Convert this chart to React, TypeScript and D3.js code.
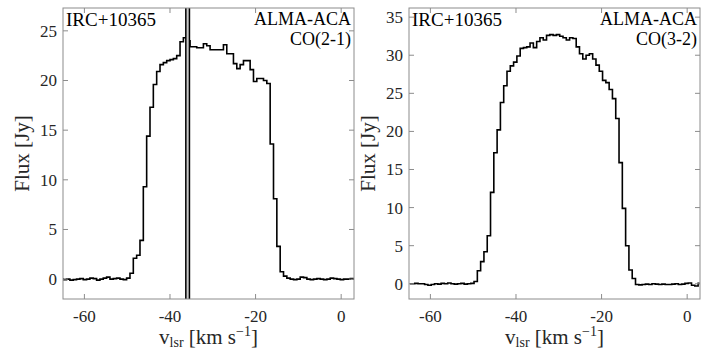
import React from 'react';
import * as d3 from 'd3';

// ---------- data ----------
const X_DOMAIN: [number, number] = [-65, 3];
const X_TICKS = [-60, -40, -20, 0];

const Y_DOMAIN_21: [number, number] = [-2, 27.3];
const Y_TICKS_21 = [0, 5, 10, 15, 20, 25];
const Y_DOMAIN_32: [number, number] = [-2, 36.2];
const Y_TICKS_32 = [0, 5, 10, 15, 20, 25, 30, 35];

// CO(2-1) channels
const DV_21 = 0.78;
const EDGE0_21 = -65.73;
const flux21 = [
  0.0, -0.05, 0.0, -0.1, -0.05, 0.0, 0.05, -0.05, 0.0, 0.1, 0.05, -0.1, 0.0, 0.1, 0.2, 0.0, 0.05, 0.1, 0.0, -0.05, 0.1,
  0.6, 2.1, 2.4, 3.9, 9.3, 14.4, 17.3, 19.6, 20.9, 21.6, 21.8, 22.0, 22.1, 22.2, 22.5, 23.9,
  24.3, 24.0, 23.4, 23.4, 23.3, 23.3, 23.7, 23.5, 23.1, 23.1, 23.1, 23.1, 23.6, 22.7, 22.7, 21.7,
  21.2, 21.6, 22.0, 22.0, 21.1, 19.9, 20.2, 20.2, 20.0, 19.7, 13.6, 8.1, 3.3, 0.75, 0.3, 0.1,
  0.0, -0.05, 0.0, 0.2, 0.15, 0.0, -0.05, 0.0, 0.05, 0.0, -0.05, 0.0, 0.1, 0.05, 0.0, -0.05, 0.0, 0.0, 0.05, 0.0,
];
const vel21 = flux21.map((_, i) => EDGE0_21 + (i + 0.5) * DV_21);
const MARK_21: [number, number] = [-36.3, -35.45];

// CO(3-2) channels
const DV_32 = 0.77;
const EDGE0_32 = -65.2;
const flux32 = [
  0.0, 0.0, 0.05, 0.0, 0.0, -0.1, -0.2, -0.1, 0.0, -0.05, 0.05, 0.0, 0.1, 0.0, -0.05, 0.0, 0.05, -0.05, 0.0, 0.05,
  0.3, 1.7, 2.9, 4.2, 6.3, 12.0, 17.2, 20.2, 23.8, 26.0, 27.9, 28.6, 29.1, 29.9, 30.9, 31.0, 31.1,
  31.6, 31.0, 31.8, 32.3, 32.0, 32.6, 32.7, 32.6, 32.7, 32.5, 32.3, 32.0, 32.3, 32.2, 31.1, 30.2,
  29.5, 30.0, 30.2, 29.5, 28.7, 27.9, 26.7, 26.4, 25.5, 24.3, 21.7, 15.9, 9.9, 5.0, 1.8, 0.7,
  -0.1, -0.15, -0.1, -0.05, -0.1, 0.0, -0.05, -0.1, -0.05, -0.1, -0.1, -0.05, 0.0, -0.1, -0.05, 0.05, 0.1, -0.2, -0.3, 0.05,
];
const vel32 = flux32.map((_, i) => EDGE0_32 + (i + 0.5) * DV_32);

const SOURCE = 'IRC+10365';
const TELESCOPE = 'ALMA-ACA';

// ---------- layout ----------
const FONT = '"Liberation Serif", serif';
const AXIS_COLOR = '#8c8c8c';
const TEXT_COLOR = '#262626';

type PanelProps = {
  id: string;
  left: number;
  top: number;
  width: number;
  height: number;
  yDomain: [number, number];
  yTicks: number[];
  vel: number[];
  flux: number[];
  line: string;
  mark?: [number, number];
};

function Panel({ id, left, top, width, height, yDomain, yTicks, vel, flux, line, mark }: PanelProps) {
  const x = d3.scaleLinear().domain(X_DOMAIN).range([left, left + width]);
  const y = d3.scaleLinear().domain(yDomain).range([top + height, top]);
  const pts: [number, number][] = vel.map((v, i) => [v, flux[i]]);
  const path = d3
    .line<[number, number]>()
    .x((d) => x(d[0]))
    .y((d) => y(d[1]))
    .curve(d3.curveStep)(pts) || '';
  const tick = 5;
  const bottom = top + height;
  const right = left + width;
  const tf = { fontFamily: FONT };
  return (
    <g>
      <defs>
        <clipPath id={id}>
          <rect x={left} y={top} width={width} height={height} />
        </clipPath>
      </defs>
      <g clipPath={`url(#${id})`}>
        <path d={path} fill="none" stroke="#000" strokeWidth={1.6} strokeLinejoin="miter" />
        {mark && (
          <g>
            <rect x={x(mark[0])} y={top} width={x(mark[1]) - x(mark[0])} height={height} fill="#c8c8c8" />
            <line x1={x(mark[0])} x2={x(mark[0])} y1={top} y2={bottom} stroke="#000" strokeWidth={1.5} />
            <line x1={x(mark[1])} x2={x(mark[1])} y1={top} y2={bottom} stroke="#000" strokeWidth={1.5} />
          </g>
        )}
      </g>
      <rect x={left} y={top} width={width} height={height} fill="none" stroke={AXIS_COLOR} strokeWidth={1} />
      {X_TICKS.map((t) => (
        <g key={`x${t}`}>
          <line x1={x(t)} x2={x(t)} y1={bottom} y2={bottom - tick} stroke={AXIS_COLOR} />
          <line x1={x(t)} x2={x(t)} y1={top} y2={top + tick} stroke={AXIS_COLOR} />
          <text x={x(t)} y={bottom + 23} textAnchor="middle" fontSize={17} fill={TEXT_COLOR} style={tf}>
            {t}
          </text>
        </g>
      ))}
      {yTicks.map((t) => (
        <g key={`y${t}`}>
          <line x1={left} x2={left + tick} y1={y(t)} y2={y(t)} stroke={AXIS_COLOR} />
          <line x1={right} x2={right - tick} y1={y(t)} y2={y(t)} stroke={AXIS_COLOR} />
          <text x={left - 6} y={y(t)} dy="0.35em" textAnchor="end" fontSize={17} fill={TEXT_COLOR} style={tf}>
            {t}
          </text>
        </g>
      ))}
      <text x={left + 3} y={top + 18} fontSize={19} fill="#000" style={tf}>
        {SOURCE}
      </text>
      <text x={right - 3} y={top + 17} textAnchor="end" fontSize={18} fill="#000" style={tf}>
        {TELESCOPE}
      </text>
      <text x={right - 3} y={top + 37} textAnchor="end" fontSize={18} fill="#000" style={tf}>
        {line}
      </text>
      <text
        transform={`translate(${left - 34},${(top + bottom) / 2}) rotate(-90)`}
        textAnchor="middle"
        fontSize={21}
        fill={TEXT_COLOR}
        style={tf}
      >
        Flux [Jy]
      </text>
      <text x={(left + right) / 2} y={bottom + 45} textAnchor="middle" fontSize={21} fill={TEXT_COLOR} style={tf}>
        v
        <tspan fontSize={14} dy={3}>lsr</tspan>
        <tspan dy={-3}> [km s</tspan>
        <tspan fontSize={14} dy={-8}>−1</tspan>
        <tspan dy={8}>]</tspan>
      </text>
    </g>
  );
}

export default function App() {
  return (
    <svg
      width={704}
      height={358}
      style={{ position: 'absolute', left: 0, top: 0, background: '#fff' }}
    >
      <rect x={0} y={0} width={704} height={358} fill="#fff" />
      <Panel
        id="clipA"
        left={63}
        top={8}
        width={291}
        height={291}
        yDomain={Y_DOMAIN_21}
        yTicks={Y_TICKS_21}
        vel={vel21}
        flux={flux21}
        line="CO(2-1)"
        mark={MARK_21}
      />
      <Panel
        id="clipB"
        left={409}
        top={8}
        width={291}
        height={291}
        yDomain={Y_DOMAIN_32}
        yTicks={Y_TICKS_32}
        vel={vel32}
        flux={flux32}
        line="CO(3-2)"
      />
    </svg>
  );
}
